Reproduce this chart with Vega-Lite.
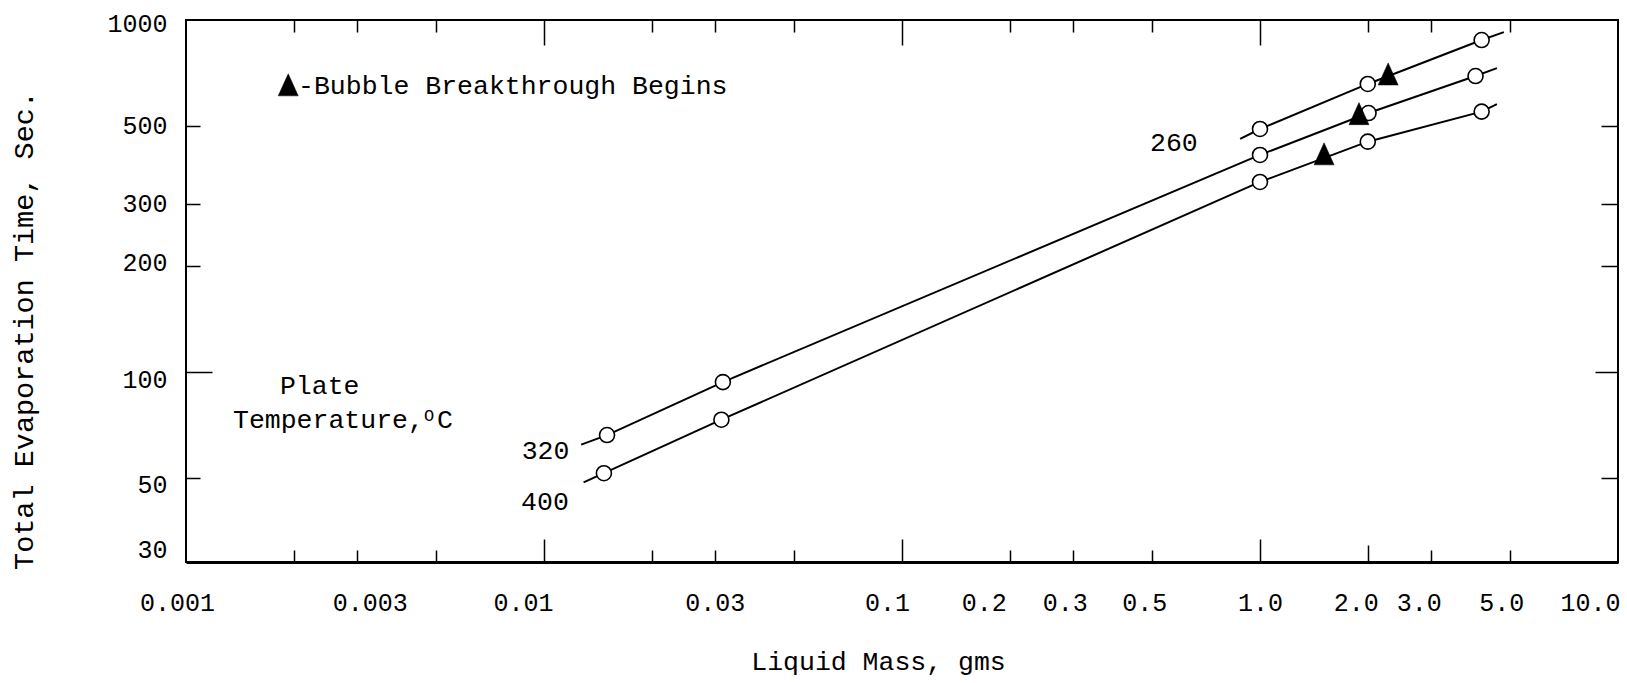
{
  "$schema": "https://vega.github.io/schema/vega-lite/v6.json",
  "width": 1432,
  "height": 542,
  "autosize": "none",
  "padding": {"left": 186, "top": 20, "right": 9, "bottom": 121},
  "background": "white",
  "config": {
    "view": {"stroke": "#000", "strokeWidth": 2},
    "font": "Liberation Mono",
    "axis": {
      "labelFont": "Liberation Mono",
      "titleFont": "Liberation Mono",
      "labelColor": "#000",
      "titleColor": "#000",
      "tickColor": "#000",
      "domainColor": "#000",
      "grid": false,
      "titleFontWeight": "normal",
      "labelFontSize": 25,
      "titleFontSize": 26.5,
      "tickWidth": 1.5,
      "labelFlush": false,
      "labelOverlap": false,
      "labelBound": false
    }
  },
  "datasets": {
    "curves": [
      {"temp": "260", "kind": "curve end", "mass": 0.88, "time": 459},
      {"temp": "260", "kind": "measured", "mass": 1.0, "time": 490},
      {"temp": "260", "kind": "measured", "mass": 2.0, "time": 658},
      {"temp": "260", "kind": "measured", "mass": 4.16, "time": 877},
      {"temp": "260", "kind": "curve end", "mass": 4.8, "time": 924},
      {"temp": "320", "kind": "curve end", "mass": 0.0127, "time": 62.1},
      {"temp": "320", "kind": "measured", "mass": 0.015, "time": 66.1},
      {"temp": "320", "kind": "measured", "mass": 0.0316, "time": 93.5},
      {"temp": "320", "kind": "measured", "mass": 1.0, "time": 413.5},
      {"temp": "320", "kind": "measured", "mass": 2.01, "time": 544},
      {"temp": "320", "kind": "measured", "mass": 4.0, "time": 693},
      {"temp": "320", "kind": "curve end", "mass": 4.59, "time": 730},
      {"temp": "400", "kind": "curve end", "mass": 0.0129, "time": 48.5},
      {"temp": "400", "kind": "measured", "mass": 0.0147, "time": 51.5},
      {"temp": "400", "kind": "measured", "mass": 0.0313, "time": 73.1},
      {"temp": "400", "kind": "measured", "mass": 1.0, "time": 346.5},
      {"temp": "400", "kind": "measured", "mass": 2.0, "time": 451},
      {"temp": "400", "kind": "measured", "mass": 4.16, "time": 549},
      {"temp": "400", "kind": "curve end", "mass": 4.59, "time": 577}
    ],
    "bubble": [
      {"temp": "260", "mass": 2.28, "time": 700},
      {"temp": "320", "mass": 1.89, "time": 540},
      {"temp": "400", "mass": 1.51, "time": 415},
      {"temp": "key", "mass": 0.00193, "time": 652}
    ],
    "notes": [
      {"text": "-Bubble Breakthrough Begins", "mass": 0.002056, "time": 615},
      {"text": "Plate", "mass": 0.00183, "time": 86.6},
      {"text": "Temperature,", "mass": 0.001353, "time": 69.3},
      {"text": "C", "mass": 0.005024, "time": 69.3},
      {"text": "260", "mass": 0.493, "time": 424.4},
      {"text": "320", "mass": 0.00866, "time": 56.5},
      {"text": "400", "mass": 0.00863, "time": 40.4}
    ],
    "supers": [
      {"text": "O", "mass": 0.00462, "time": 72.6}
    ]
  },
  "layer": [
    {
      "data": {"name": "curves"},
      "mark": {"type": "line", "color": "#000", "strokeWidth": 2},
      "encoding": {
        "x": {
          "field": "mass", "type": "quantitative",
          "scale": {"type": "log", "domain": [0.001, 10], "nice": false},
          "axis": {
            "orient": "bottom",
            "values": [0.001, 0.003, 0.01, 0.03, 0.1, 0.2, 0.3, 0.5, 1, 2, 3, 5, 10],
            "labelExpr": "datum.value >= 1 ? format(datum.value, '.1f') : format(datum.value, '~g')",
            "ticks": false,
            "tickSize": 0,
            "labelOffset": {"condition": [
              {"test": "datum.value == 0.001", "value": -9},
              {"test": "datum.value == 0.003", "value": 13},
              {"test": "datum.value == 0.01", "value": -21},
              {"test": "datum.value == 0.1", "value": -15},
              {"test": "datum.value == 0.2", "value": -26},
              {"test": "datum.value == 0.3 || datum.value == 0.5", "value": -8},
              {"test": "datum.value == 2 || datum.value == 3", "value": -12},
              {"test": "datum.value == 5", "value": -9},
              {"test": "datum.value == 10", "value": -28}
            ], "value": 0},
            "labelPadding": 28,
            "labelBaseline": "top",
            "domainWidth": 3,
            "title": "Liquid Mass, gms",
            "titleX": 692,
            "titleY": 107,
            "titleAlign": "center",
            "titleBaseline": "alphabetic",
            "titleAnchor": null
          }
        },
        "y": {
          "field": "time", "type": "quantitative",
          "scale": {"type": "log", "domain": [28.8, 1000], "nice": false},
          "axis": {
            "orient": "left",
            "values": [30, 50, 100, 200, 300, 500, 1000],
            "format": "d",
            "ticks": false,
            "tickSize": 0,
            "labelOffset": {"condition": [
              {"test": "datum.value == 100", "value": 8},
              {"test": "datum.value == 50", "value": 7},
              {"test": "datum.value == 30", "value": -6},
              {"test": "datum.value == 1000", "value": 3},
              {"test": "datum.value == 200", "value": -3}
            ], "value": 0},
            "labelPadding": 19,
            "domain": false,
            "title": "Total Evaporation Time, Sec.",
            "titleFontSize": 28.5,
            "titleAngle": 270,
            "titleX": -163,
            "titleY": 310,
            "titleAlign": "center",
            "titleBaseline": "middle",
            "titleAnchor": null
          }
        },
        "detail": {"field": "temp"}
      }
    },
    {
      "data": {"name": "curves"},
      "mark": {"type": "line", "opacity": 0},
      "encoding": {
        "x": {
          "field": "mass", "type": "quantitative",
          "axis": {"orient": "bottom", "values": [0.002, 0.003, 0.005, 0.02, 0.03, 0.05, 0.2, 0.3, 0.5, 3, 5], "labels": false, "domain": false, "title": null, "tickSize": -12}
        },
        "y": {
          "field": "time", "type": "quantitative",
          "axis": {"orient": "left", "values": [50, 200, 300, 500], "labels": false, "domain": false, "title": null, "tickSize": -14}
        },
        "detail": {"field": "temp"}
      }
    },
    {
      "data": {"name": "curves"},
      "mark": {"type": "line", "opacity": 0},
      "encoding": {
        "x": {
          "field": "mass", "type": "quantitative",
          "axis": {"orient": "bottom", "values": [0.01, 0.1, 1], "labels": false, "domain": false, "title": null, "tickSize": -23}
        },
        "y": {
          "field": "time", "type": "quantitative",
          "axis": {"orient": "left", "values": [100], "labels": false, "domain": false, "title": null, "tickSize": -26}
        },
        "detail": {"field": "temp"}
      }
    },
    {
      "data": {"name": "curves"},
      "mark": {"type": "line", "opacity": 0},
      "encoding": {
        "x": {
          "field": "mass", "type": "quantitative",
          "axis": {"orient": "bottom", "values": [2], "labels": false, "domain": false, "title": null, "tickSize": -17}
        },
        "y": {"field": "time", "type": "quantitative", "axis": null},
        "detail": {"field": "temp"}
      }
    },
    {
      "data": {"name": "curves"},
      "mark": {"type": "line", "opacity": 0},
      "encoding": {
        "x": {
          "field": "mass", "type": "quantitative",
          "axis": {"orient": "top", "values": [0.002, 0.003, 0.005, 0.02, 0.03, 0.05, 0.2, 0.3, 0.5, 2, 3, 5], "labels": false, "domain": false, "title": null, "tickSize": -12}
        },
        "y": {
          "field": "time", "type": "quantitative",
          "axis": {"orient": "right", "values": [50, 200, 300, 500], "labels": false, "domain": false, "title": null, "tickSize": -17}
        },
        "detail": {"field": "temp"}
      }
    },
    {
      "data": {"name": "curves"},
      "mark": {"type": "line", "opacity": 0},
      "encoding": {
        "x": {
          "field": "mass", "type": "quantitative",
          "axis": {"orient": "top", "values": [0.01, 0.1, 1], "labels": false, "domain": false, "title": null, "tickSize": -25}
        },
        "y": {
          "field": "time", "type": "quantitative",
          "axis": {"orient": "right", "values": [100], "labels": false, "domain": false, "title": null, "tickSize": -23}
        },
        "detail": {"field": "temp"}
      }
    },
    {
      "data": {"name": "curves"},
      "transform": [{"filter": "datum.kind == 'measured'"}],
      "mark": {"type": "point", "shape": "circle", "filled": true, "fill": "#fff", "stroke": "#000", "strokeWidth": 1.6, "size": 225, "opacity": 1},
      "encoding": {
        "x": {"field": "mass", "type": "quantitative", "axis": null},
        "y": {"field": "time", "type": "quantitative", "axis": null}
      }
    },
    {
      "data": {"name": "bubble"},
      "mark": {"type": "point", "shape": "M0,-1.1L-0.95,1L0.95,1Z", "filled": true, "fill": "#000", "stroke": "#000", "strokeWidth": 0.5, "size": 441, "opacity": 1},
      "encoding": {
        "x": {"field": "mass", "type": "quantitative", "axis": null},
        "y": {"field": "time", "type": "quantitative", "axis": null}
      }
    },
    {
      "data": {"name": "notes"},
      "mark": {"type": "text", "align": "left", "baseline": "alphabetic", "font": "Liberation Mono", "fontSize": 26.5, "color": "#000"},
      "encoding": {
        "x": {"field": "mass", "type": "quantitative", "axis": null},
        "y": {"field": "time", "type": "quantitative", "axis": null},
        "text": {"field": "text"}
      }
    },
    {
      "data": {"name": "supers"},
      "mark": {"type": "text", "align": "left", "baseline": "alphabetic", "font": "Liberation Mono", "fontSize": 17, "color": "#000"},
      "encoding": {
        "x": {"field": "mass", "type": "quantitative", "axis": null},
        "y": {"field": "time", "type": "quantitative", "axis": null},
        "text": {"field": "text"}
      }
    }
  ],
  "resolve": {"axis": {"x": "independent", "y": "independent"}}
}
